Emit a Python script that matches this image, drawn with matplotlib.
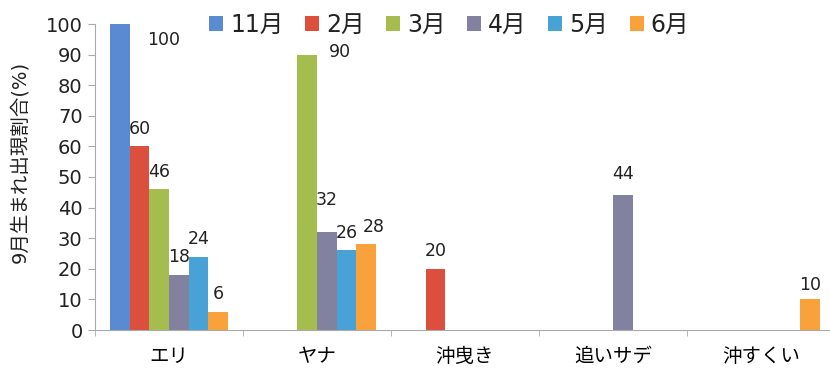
import numpy as np
import matplotlib
matplotlib.use('Agg')
import matplotlib.pyplot as plt

# digits in a Verdana-like face, kana/kanji fall through to Noto
plt.rcParams['font.family'] = ['DejaVu Sans', 'Noto Sans CJK JP']

categories = ['エリ', 'ヤナ', '沖曳き', '追いサデ', '沖すくい']
months = ['11月', '2月', '3月', '4月', '5月', '6月']
v_nov = [100, 0, 0, 0, 0]
v_feb = [60, 0, 20, 0, 0]
v_mar = [46, 90, 0, 0, 0]
v_apr = [18, 32, 0, 44, 0]
v_may = [24, 26, 0, 0, 0]
v_jun = [6, 28, 0, 0, 10]
series = [v_nov, v_feb, v_mar, v_apr, v_may, v_jun]
colors = ['#5A8AD2', '#DC4F3C', '#A5BD4E', '#8381A0', '#49A2D6', '#F9A23B']

# label nudges (dx in category units, dy in %) where the default spot is crowded
nudge = {(0, 0): (0.30, -5.2), (2, 1): (0.22, 0.8), (3, 1): (0, 10.5),
         (5, 1): (0.05, 5.7), (3, 3): (0, 7.0), (5, 4): (0, 4.7)}

fig = plt.figure(figsize=(8.3, 3.69), dpi=100)
ax = fig.add_axes([95/830, 39/369, 740/830, 306/369])

x = np.arange(len(categories))
bw = 0.8 / len(months)
for i, (vals, c, m) in enumerate(zip(series, colors, months)):
    pos = x - 0.4 + bw * (i + 0.5)
    ax.bar(pos, vals, width=bw, color=c, label=m, linewidth=0)
    for j, v in enumerate(vals):
        if v == 0:
            continue
        dx, dy = nudge.get((i, j), (0, 5.7))
        ax.text(pos[j] + dx, v + dy, str(v), ha='center', va='center',
                fontsize=12.5, color='#222222')

ax.set_xlim(-0.5, len(categories) - 0.5)
ax.set_ylim(0, 100)
ax.set_yticks(range(0, 101, 10))
ax.set_xticks(x)
ax.set_xticklabels(categories, fontsize=14)
ax.set_xticks(np.arange(len(categories) + 1) - 0.5, minor=True)
ax.tick_params(axis='x', which='major', length=0, pad=12)
ax.tick_params(axis='x', which='minor', length=4, color='#AAAAAA')
ax.tick_params(axis='y', length=5, color='#AAAAAA', labelsize=14, pad=4,
               labelcolor='#222222')
for s in ['top', 'right']:
    ax.spines[s].set_visible(False)
for s in ['left', 'bottom']:
    ax.spines[s].set_color('#AAAAAA')

# y title sits a little above the axis middle
fig.text(20/830, 1 - 162/369, '9月生まれ出現割合(%)', rotation=90,
         ha='center', va='center', fontsize=14, color='#222222')

fig.legend(loc='upper left', bbox_to_anchor=(196/830, 1.0), ncol=6, frameon=False,
           fontsize=17, handlelength=0.6, handleheight=0.6, handletextpad=0.3,
           columnspacing=0.9, borderaxespad=0.15, labelcolor='#222222')

fig.savefig('out.png', dpi=100)
